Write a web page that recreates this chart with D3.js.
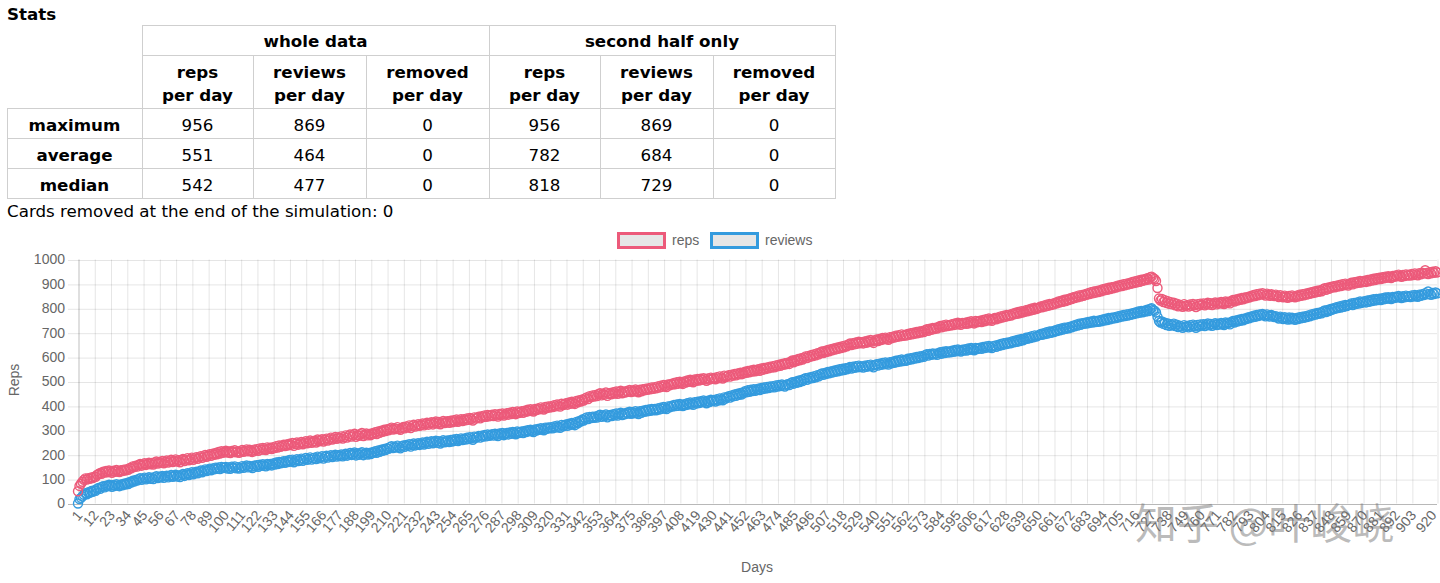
<!DOCTYPE html>
<html>
<head>
<meta charset="utf-8">
<title>Stats</title>
<script src="https://cdn.jsdelivr.net/npm/d3@7"></script>
<style>
body { margin: 0; background: #fff; }
svg { display: block; }
</style>
</head>
<body>
<svg id="chart" width="1440" height="583"></svg>
<script>

// ---- table data ----
const groupLabels = ["whole data", "second half only"];
const colLabels = [["reps", "per day"], ["reviews", "per day"], ["removed", "per day"]];
const rowLabels = ["maximum", "average", "median"];
const wholeData = [[956, 869, 0], [551, 464, 0], [542, 477, 0]];
const secondHalf = [[956, 869, 0], [782, 684, 0], [818, 729, 0]];
const removedAtEnd = 0;

// ---- chart data ----
const days = d3.range(1, 921);
const xTickLabels = [1,12,23,34,45,56,67,78,89,100,111,122,133,144,155,166,177,188,199,210,221,232,243,254,265,276,287,298,309,320,331,342,353,364,375,386,397,408,419,430,441,452,463,474,485,496,507,518,529,540,551,562,573,584,595,606,617,628,639,650,661,672,683,694,705,716,727,738,749,760,771,782,793,804,815,826,837,848,859,870,881,892,903,920];
const yTicks = [0,100,200,300,400,500,600,700,800,900,1000];

const reps = [
50,72,81,89,97,103,98,104,101,107,104,110,109,118,121,125,122,130,127,133,
128,135,131,126,134,130,137,132,129,136,133,139,135,141,138,146,144,152,149,155,
151,158,162,155,160,165,158,163,167,161,166,160,168,172,164,170,167,174,165,171,
176,168,173,179,170,175,181,172,177,169,178,183,174,180,186,177,182,188,179,185,
190,183,189,194,187,193,199,191,196,202,195,204,200,207,202,211,205,214,208,212,
216,209,213,207,215,211,218,210,214,208,213,219,212,216,222,214,220,215,211,221,
217,223,216,226,220,228,222,219,230,224,229,223,231,227,235,229,238,232,236,241,
235,242,238,245,240,248,236,244,250,241,246,252,243,249,255,247,251,258,249,254,
257,250,262,255,259,264,254,261,266,258,264,270,262,267,273,265,271,268,275,266,
272,279,270,276,283,274,280,286,273,281,277,284,289,276,282,287,279,285,280,288,
286,292,285,295,290,298,294,302,297,305,300,307,311,303,309,305,313,306,302,310,
314,308,316,312,320,309,317,323,315,319,325,318,322,328,320,326,331,323,329,333,
324,331,336,328,334,325,332,338,330,335,337,331,339,333,341,336,344,335,340,346,
338,345,341,349,343,351,346,340,353,348,352,356,349,358,354,361,355,363,357,360,
364,358,366,361,356,367,362,369,360,365,370,364,372,367,375,369,366,377,371,374,
378,372,380,376,384,379,386,381,377,388,383,390,386,394,389,385,396,391,398,393,
399,395,403,398,406,401,397,409,403,407,411,405,414,409,417,412,408,420,415,423,
418,426,422,431,435,428,440,436,443,438,445,440,448,452,443,450,446,455,441,449,
453,448,456,451,459,450,457,462,452,458,455,461,458,465,457,463,459,467,461,456,
466,460,468,464,471,466,473,468,476,470,477,472,480,475,483,478,486,481,477,488,
484,490,487,494,489,497,491,499,494,490,500,496,504,499,507,502,497,508,503,510,
504,511,507,514,509,503,513,508,516,511,515,509,518,513,521,516,512,524,518,522,
526,520,528,524,531,525,533,529,536,530,534,540,536,543,538,545,541,548,542,546,
550,544,553,548,556,551,558,554,561,557,563,558,566,562,569,564,572,568,575,571,
577,572,581,586,579,588,584,592,587,595,590,598,603,596,605,601,609,604,612,607,
616,611,619,623,617,625,621,629,624,632,628,635,631,639,634,642,637,645,640,648,
644,651,656,649,657,652,660,655,663,657,661,656,664,659,667,662,670,664,658,668,
672,666,674,670,678,673,680,675,671,682,677,684,680,688,683,690,685,693,687,691,
688,695,691,698,693,700,696,703,698,705,701,707,703,710,714,708,716,712,719,715,
721,717,724,728,722,730,725,733,727,731,729,735,731,738,733,741,736,732,740,737,
741,736,744,739,747,742,738,748,743,746,749,744,752,747,755,750,758,753,749,757,
760,755,763,759,767,762,770,765,773,768,774,770,778,775,782,777,785,780,788,783,
786,792,788,795,791,799,794,802,797,800,803,808,804,811,807,815,810,818,813,819,
816,823,820,828,824,831,827,835,830,837,834,841,838,845,842,849,845,853,848,855,
851,858,855,862,858,866,861,869,864,871,867,874,870,878,874,881,876,884,879,886,
882,889,885,893,889,896,891,899,894,901,897,904,900,908,903,911,906,914,909,917,
913,919,916,923,918,927,930,924,920,912,883,840,832,838,826,833,822,829,818,825,
816,823,812,819,808,815,811,806,817,809,813,807,816,810,818,812,805,817,811,819,
814,820,812,818,823,815,821,813,819,824,816,823,819,826,821,817,828,822,827,820,
829,834,828,836,832,839,835,842,837,844,841,847,844,851,848,855,850,858,853,860,
856,862,857,852,860,855,851,858,854,850,856,851,846,854,849,845,852,847,843,851,
846,853,849,845,852,848,856,851,858,853,860,856,863,859,866,862,869,865,872,868,
874,870,878,882,876,884,880,888,885,891,886,893,889,896,891,899,894,901,897,893,
900,905,898,907,902,909,904,912,906,910,913,908,916,911,918,914,921,916,923,919,
925,920,927,923,930,925,932,928,924,933,929,935,931,938,933,929,937,932,939,934,
938,934,941,936,943,938,935,944,939,946,942,956,945,940,948,943,950,945,952,947
];

const reviews = [
0,18,23,29,36,42,38,46,44,51,48,55,52,61,64,60,68,71,66,73,
70,77,73,68,76,72,79,74,71,78,75,81,78,84,80,88,86,93,90,97,
94,100,104,97,102,106,99,104,108,101,106,100,108,112,104,110,107,113,105,111,
114,107,112,117,109,113,118,110,115,108,116,121,113,119,124,117,122,128,120,126,
130,124,131,135,128,134,140,133,138,143,136,144,140,147,142,148,141,150,145,147,
150,143,148,142,151,146,152,144,149,143,147,153,146,151,156,148,154,150,145,155,
151,157,150,159,154,161,155,152,162,157,162,156,164,160,168,162,170,165,168,173,
167,174,170,178,172,180,169,176,182,174,178,184,175,181,187,179,183,189,180,186,
188,182,192,185,189,194,184,191,196,188,193,198,190,195,200,192,198,194,201,193,
198,204,196,201,207,199,204,209,197,205,200,206,210,198,204,208,201,207,203,210,
209,214,208,217,212,220,216,224,219,227,224,231,235,227,233,229,237,230,226,234,
238,232,240,236,243,233,240,246,238,242,247,240,245,250,242,248,253,245,251,255,
247,253,257,249,255,246,253,259,251,256,258,252,260,254,262,257,265,256,261,267,
260,266,262,270,264,272,267,261,274,269,273,277,270,278,274,281,275,283,277,280,
284,278,286,281,276,287,282,289,280,285,289,283,291,286,293,288,284,295,289,292,
295,289,297,293,300,296,302,297,293,303,299,306,302,309,304,300,311,306,312,308,
313,308,316,311,319,314,310,322,316,320,324,318,327,322,330,326,321,334,329,338,
336,344,340,349,353,346,355,350,356,351,357,352,360,364,355,361,357,365,353,360,
363,358,366,361,369,360,367,372,362,368,366,372,369,376,368,374,370,378,372,367,
378,372,380,376,383,378,385,380,388,382,387,382,390,385,393,388,396,391,387,398,
394,400,397,404,399,406,400,408,403,399,407,403,411,406,414,409,404,415,410,417,
412,419,415,422,417,411,421,416,425,420,424,418,427,422,431,426,423,435,430,436,
440,434,443,439,447,441,450,445,453,447,454,460,456,464,458,466,461,468,462,467,
471,465,474,469,476,471,478,473,480,476,481,476,484,479,486,481,488,483,479,487,
489,485,493,497,491,499,495,503,498,506,502,510,514,507,516,512,519,514,522,517,
526,521,529,533,527,535,531,539,534,541,537,544,540,547,542,550,545,552,547,555,
550,556,560,553,561,556,563,558,565,559,562,557,565,560,567,562,569,564,558,567,
571,565,573,568,576,570,578,573,569,579,574,581,577,585,580,587,582,590,584,588,
585,593,589,596,591,598,594,601,596,603,599,605,601,608,612,606,613,609,615,611,
614,609,616,620,614,622,617,624,619,623,620,626,622,629,624,631,627,623,630,627,
632,627,635,630,637,632,628,638,633,636,639,634,642,637,644,639,646,641,637,645,
647,642,650,646,654,649,657,652,659,655,661,657,665,661,668,663,671,666,674,669,
673,679,675,682,678,686,681,689,684,688,690,695,691,698,694,702,697,705,700,706,
703,710,707,714,710,717,713,721,716,722,718,725,722,729,726,733,729,737,732,739,
736,741,737,744,740,746,742,749,744,748,745,751,747,754,750,757,752,760,755,761,
758,764,760,767,763,770,766,773,768,775,770,777,773,780,776,783,779,787,782,789,
784,790,787,794,789,797,800,793,790,783,765,748,742,746,736,741,731,738,728,734,
730,737,727,733,723,729,726,720,731,724,728,722,731,725,733,727,720,732,726,734,
729,735,727,733,738,730,736,728,734,739,731,737,733,740,735,731,742,736,741,734,
743,748,742,750,746,753,749,756,751,758,756,762,759,766,763,770,765,773,768,775,
771,777,772,767,775,770,766,773,769,764,768,763,758,766,761,756,764,759,754,762,
755,761,757,753,760,756,764,759,766,761,768,764,771,767,775,771,778,774,781,777,
783,779,787,791,785,793,789,797,794,800,798,805,801,808,803,811,806,814,809,813,
815,820,813,822,817,824,819,828,822,826,829,824,832,827,834,830,837,832,838,834,
839,834,841,837,844,839,846,842,838,847,842,848,844,851,846,842,850,845,852,847,
850,846,853,848,855,850,847,856,851,858,854,862,857,869,859,855,863,858,865,861
];

const series = [
  { name: "reviews", values: reviews, color: "rgb(52,155,222)" },
  { name: "reps", values: reps, color: "rgb(236,90,122)" }
];

const svg = d3.select("#chart");

// ================= stats table =================
const tFont = "'DejaVu Sans', Verdana, sans-serif";
const colX = [7, 142, 253, 366, 489, 600, 713, 835];
const rowY = [25, 55, 108, 138, 168, 198];
const border = "#cfcfcf";

svg.append("text").attr("x", 7).attr("y", 20)
  .attr("font-family", tFont).attr("font-size", 16.7).attr("font-weight", "bold")
  .text("Stats");

const table = svg.append("g").attr("font-family", tFont).attr("font-size", 16.7);

function cell(x0, x1, y0, y1) {
  table.append("rect")
    .attr("x", x0 + 0.5).attr("y", y0 + 0.5)
    .attr("width", x1 - x0).attr("height", y1 - y0)
    .attr("fill", "none").attr("stroke", border).attr("stroke-width", 1);
}

// group header row
groupLabels.forEach((g, i) => {
  const x0 = colX[1 + i * 3], x1 = colX[4 + i * 3];
  cell(x0, x1, rowY[0], rowY[1]);
  table.append("text").attr("x", (x0 + x1) / 2).attr("y", 47)
    .attr("text-anchor", "middle").attr("font-weight", "bold").text(g);
});

// column header row
for (let g = 0; g < 2; g++) {
  colLabels.forEach((lines, j) => {
    const x0 = colX[1 + g * 3 + j], x1 = colX[2 + g * 3 + j];
    cell(x0, x1, rowY[1], rowY[2]);
    lines.forEach((ln, k) => {
      table.append("text").attr("x", (x0 + x1) / 2).attr("y", 78 + k * 23)
        .attr("text-anchor", "middle").attr("font-weight", "bold").text(ln);
    });
  });
}

// body rows
rowLabels.forEach((lab, r) => {
  const y0 = rowY[2 + r], y1 = rowY[3 + r];
  cell(colX[0], colX[1], y0, y1);
  table.append("text").attr("x", (colX[0] + colX[1]) / 2).attr("y", y0 + 23)
    .attr("text-anchor", "middle").attr("font-weight", "bold").text(lab);
  const vals = wholeData[r].concat(secondHalf[r]);
  vals.forEach((v, c) => {
    cell(colX[1 + c], colX[2 + c], y0, y1);
    table.append("text").attr("x", (colX[1 + c] + colX[2 + c]) / 2).attr("y", y0 + 23)
      .attr("text-anchor", "middle").text(v);
  });
});

svg.append("text").attr("x", 7).attr("y", 217)
  .attr("font-family", tFont).attr("font-size", 16.7)
  .text("Cards removed at the end of the simulation: " + removedAtEnd);

// ================= chart =================
const cFont = "'Liberation Sans', Arial, Helvetica, sans-serif";
const plotL = 78, plotR = 1437, plotT = 259.5, plotB = 503.5;

const x = d3.scalePoint().domain(days).range([plotL, plotR]);
const y = d3.scaleLinear().domain([0, 1000]).range([plotB, plotT]);

// y grid + labels
const yAxis = svg.append("g")
  .attr("transform", `translate(${plotR},0)`)
  .call(d3.axisLeft(y).tickValues(yTicks).tickFormat(d3.format("d"))
    .tickSize(plotR - plotL + 10).tickPadding(3).tickSizeOuter(0));
yAxis.select(".domain").remove();
yAxis.selectAll("line")
  .attr("stroke", d => d === 0 ? "rgba(0,0,0,0.28)" : "rgba(0,0,0,0.1)")
  .attr("transform", "translate(0,0.5)");
yAxis.selectAll("text").attr("fill", "#666").attr("font-family", cFont).attr("font-size", 14);

// x grid + labels
const lastDay = xTickLabels[xTickLabels.length - 1];
const xAxis = svg.append("g")
  .attr("transform", `translate(0,${plotB})`)
  .call(d3.axisBottom(x).tickValues(xTickLabels).tickSize(-(plotB - plotT)).tickSizeOuter(0));
xAxis.select(".domain").remove();
xAxis.selectAll("line")
  .attr("stroke", d => d === 1 ? "rgba(0,0,0,0.25)" : "rgba(0,0,0,0.1)")
  .attr("transform", "translate(0.5,0)");
xAxis.selectAll("text")
  .attr("fill", "#666").attr("font-family", cFont).attr("font-size", 14)
  .attr("x", 0).attr("y", 0).attr("dy", "0.35em")
  .attr("text-anchor", "end")
  .attr("transform", d => d === lastDay ? "translate(-4,9) rotate(-50)" : "translate(1,9) rotate(-50)");

// points
series.forEach(s => {
  svg.append("g").selectAll("circle")
    .data(s.values)
    .join("circle")
    .attr("cx", (v, i) => x(days[i]))
    .attr("cy", v => y(v))
    .attr("r", 4.5)
    .attr("fill", "none")
    .attr("stroke", s.color)
    .attr("stroke-width", 1.4);
});

// axis titles
svg.append("text").attr("transform", "translate(14,380) rotate(-90)")
  .attr("text-anchor", "middle").attr("dy", "0.35em")
  .attr("fill", "#666").attr("font-family", cFont).attr("font-size", 14)
  .text("Reps");
svg.append("text").attr("x", 757).attr("y", 572)
  .attr("text-anchor", "middle")
  .attr("fill", "#666").attr("font-family", cFont).attr("font-size", 14)
  .text("Days");

// legend
const legendItems = [
  { name: "reps", color: "rgb(236,90,122)", x: 618 },
  { name: "reviews", color: "rgb(52,155,222)", x: 711 }
];
legendItems.forEach(it => {
  svg.append("rect").attr("x", it.x + 0.5).attr("y", 233.5).attr("width", 46).attr("height", 14)
    .attr("fill", "#e6e6e6").attr("stroke", it.color).attr("stroke-width", 3);
  svg.append("text").attr("x", it.x + 54).attr("y", 245)
    .attr("fill", "#666").attr("font-family", cFont).attr("font-size", 14)
    .text(it.name);
});

// watermark
const wm = svg.append("text").attr("x", 1135).attr("y", 539)
  .attr("font-family", "'Noto Sans CJK SC', sans-serif").attr("font-size", 42)
  .text("知乎 @叶峻峣");
wm.attr("fill", "rgba(120,120,120,0.5)");
</script>
</body>
</html>
